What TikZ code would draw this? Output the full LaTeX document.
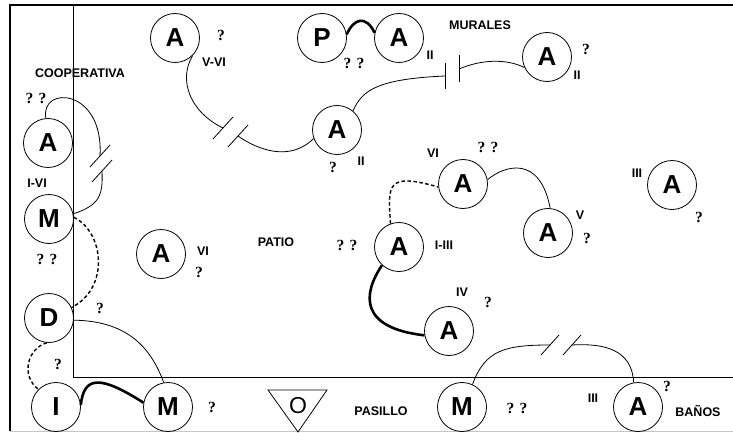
\documentclass[tikz,border=0pt]{standalone}
\usepackage{fontspec}
\setmainfont{Liberation Sans}
\newfontfamily\qfont{Liberation Serif}
\tikzset{
  room/.style={circle, draw, line width=0.8pt, minimum size=49pt, inner sep=0pt,
    font=\bfseries\fontsize{26}{26}\selectfont},
  tag/.style={inner sep=0pt, font=\bfseries\fontsize{12.5}{12.5}\selectfont},
  qq/.style={inner sep=0pt, font=\qfont\bfseries\fontsize{15.5}{15.5}\selectfont},
  link/.style={line width=0.8pt},
  bond/.style={line width=2.6pt},
  weak/.style={line width=1.4pt, dash pattern=on 3.5pt off 2.5pt},
}
\begin{document}
\begin{tikzpicture}[x=1pt, y=-1pt]
  \useasboundingbox (0,0) rectangle (733,433);
  % walls
  \draw[line width=1.2pt] (10,431) -- (10,5) -- (733,5);
  \draw[line width=0.8pt] (73,5) -- (73,377) -- (733,377);
  \draw[gray!45, line width=0.8pt] (10,431.5) -- (733,431.5);

  % rooms
  \node[room] (aVVI)  at (175,38)  {A};
  \node[room] (pMur)  at (322,38)  {P};
  \node[room] (aMur)  at (399,38)  {A};
  \node[room] (aMurR) at (547,57)  {A};
  \node[room] (aII)   at (337,130) {A};
  \node[room] (aCoop) at (48,143)  {A};
  \node[room] (mCoop) at (49,219)  {M};
  \node[room] (dCoop) at (49,318)  {D};
  \node[room] (iPas)  at (56,407)  {I};
  \node[room] (mPas)  at (168,407) {M};
  \node[room] (mBan)  at (462,407) {M};
  \node[room] (aBan)  at (638,407) {A};
  \node[room] (aPat)  at (161,254) {A};
  \node[room] (aIIII) at (399,247) {A};
  \node[room] (aVI)   at (463,184) {A};
  \node[room] (aV)    at (548,233) {A};
  \node[room] (aIII)  at (672,185) {A};
  \node[room] (aIV)   at (449,331) {A};

  % exit sign
  \draw[line width=0.8pt] (268,390) -- (327,390) -- (298,432) -- cycle;
  \node[inner sep=0pt, font=\fontsize{23}{23}\selectfont] (oPas) at (298,406) {O};

  % places
  \node[tag] (tCoop) at (80,73)   {COOPERATIVA};
  \node[tag] (tMur)  at (480,25)  {MURALES};
  \node[tag] (tPat)  at (276,242) {PATIO};
  \node[tag] (tPas)  at (381,411) {PASILLO};
  \node[tag] (tBan)  at (698,411) {BAÑOS};

  % grades
  \node[tag] (gVVI)  at (214,62)  {V-VI};
  \node[tag] (gMur)  at (430,55)  {II};
  \node[tag] (gMurR) at (577,75)  {II};
  \node[tag] (gII)   at (361,161) {II};
  \node[tag] (gCoop) at (37,183)  {I-VI};
  \node[tag] (gPat)  at (203,251) {VI};
  \node[tag] (gIIII) at (444,245) {I-III};
  \node[tag] (gVI)   at (433,153) {VI};
  \node[tag] (gV)    at (580,215) {V};
  \node[tag] (gIII)  at (637,173) {III};
  \node[tag] (gIV)   at (462,292) {IV};
  \node[tag] (gBan)  at (593,398) {III};

  % question marks
  \node[qq] (q1)  at (221,35)  {?};
  \node[qq] (q2)  at (354,63)  {? ?};
  \node[qq] (q3)  at (586,49)  {?};
  \node[qq] (q4)  at (333,167) {?};
  \node[qq] (q5)  at (36,98)   {? ?};
  \node[qq] (q6)  at (47,259)  {? ?};
  \node[qq] (q7)  at (100,308) {?};
  \node[qq] (q8)  at (58,364)  {?};
  \node[qq] (q9)  at (212,407) {?};
  \node[qq] (q10) at (517,408) {? ?};
  \node[qq] (q11) at (667,386) {?};
  \node[qq] (q12) at (199,272) {?};
  \node[qq] (q13) at (347,245) {? ?};
  \node[qq] (q14) at (488,147) {? ?};
  \node[qq] (q15) at (488,302) {?};
  \node[qq] (q16) at (587,238) {?};
  \node[qq] (q17) at (699,217) {?};

  % breaks and plates
  \coordinate (k1) at (223,128);
  \coordinate (k2) at (238,136);
  \coordinate (k3) at (100,156);
  \coordinate (k4) at (102,171);
  \coordinate (k5) at (550,345);
  \coordinate (k6) at (572,345);
  \coordinate (c1) at (445,76);
  \coordinate (c2) at (459,69);
  \foreach \k in {k1,k2,k3,k4}
    \draw[link, shift={(\k)}] (-10,11) -- (10,-11);
  \foreach \k in {k5,k6}
    \draw[link, shift={(\k)}] (-9,10) -- (9,-10);
  \draw[line width=1pt, shift={(c1)}] (0,-13) -- (0,13);
  \draw[line width=1pt, shift={(c2)}] (0,-14) -- (0,13);

  % ties
  \draw[link] (aVVI.-45) .. controls (178,80) and (190,112) .. (k1);
  \draw[link] (k2) .. controls (258,150) and (290,162) .. (aII.200);
  \draw[link] (aII.50) .. controls (362,90) and (378,79) .. (c1);
  \draw[link] (c2) .. controls (480,60) and (505,58) .. (aMurR.205);
  \draw[bond] (pMur.8) .. controls (354,18) and (366,15) .. (aMur.168);
  \draw[link] (aCoop.95) .. controls (40,85) and (104,88) .. (k3);
  \draw[link] (k4) .. controls (103,195) and (100,205) .. (mCoop.12);
  \draw[weak] (mCoop.4) .. controls (104,232) and (110,288) .. (dCoop.25);
  \draw[link] (dCoop.-5) .. controls (125,321) and (150,345) .. (mPas.100);
  \draw[weak] (dCoop.-95) .. controls (28,348) and (20,375) .. (iPas.135);
  \draw[bond] (iPas.5) .. controls (84,376) and (100,375) .. (mPas.170);
  \draw[weak] (aIIII.110) .. controls (388,185) and (386,172) .. (aVI.187);
  \draw[link] (aVI.10) .. controls (505,165) and (540,155) .. (aV.85);
  \draw[bond] (aIIII.-133) .. controls (362,295) and (360,328) .. (aIV.190);
  \draw[link] (mBan.65) .. controls (485,350) and (505,345) .. (k5);
  \draw[link] (k6) .. controls (605,343) and (632,350) .. (aBan.100);
\end{tikzpicture}
\end{document}
